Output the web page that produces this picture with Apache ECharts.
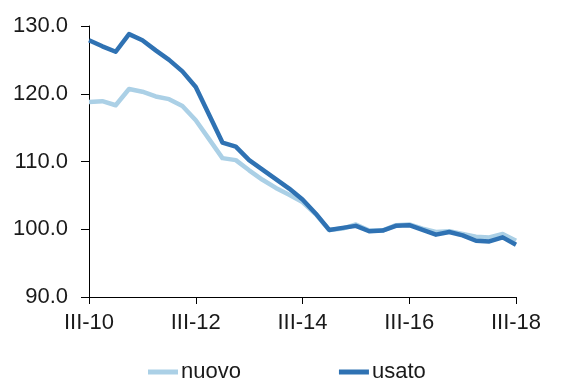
<!DOCTYPE html>
<html>
<head>
<meta charset="utf-8">
<script src="https://cdn.jsdelivr.net/npm/echarts@6/dist/echarts.min.js"></script>
<style>html,body{margin:0;padding:0;background:#fff}#c{width:561px;height:386px}</style>
</head>
<body>
<div id="c"></div>
<script>
const quarters = (function(){
  const q = ['I','II','III','IV'];
  const out = [];
  for (let y = 10; y <= 18; y++) for (let k = 0; k < 4; k++) {
    if ((y === 10 && k < 2) || (y === 18 && k > 2)) continue;
    out.push(q[k] + '-' + String(y).padStart(2,'0'));
  }
  return out;
})();
const nuovo = [118.8, 118.9, 118.3, 120.7, 120.3, 119.6, 119.2, 118.2, 116.1, 113.3, 110.5, 110.2, 108.7, 107.3, 106.1, 105.1,
  104.0, 102.2, 99.9, 100.1, 100.7, 99.8, 99.8, 100.6, 100.7, 100.1, 99.6, 99.7, 99.3, 98.9, 98.8, 99.3, 98.3];
const usato = [127.9, 127.0, 126.2, 128.8, 127.9, 126.4, 125.0, 123.3, 121.0, 116.9, 112.8, 112.2, 110.2, 108.8, 107.4, 106.0,
  104.4, 102.3, 99.9, 100.2, 100.5, 99.7, 99.8, 100.5, 100.6, 99.9, 99.2, 99.6, 99.1, 98.3, 98.2, 98.8, 97.7];
const yTicks = {min: 90, max: 130, step: 10};

const chart = echarts.init(document.getElementById('c'), null, {renderer: 'canvas'});
const font = 'Liberation Sans, Arial, sans-serif';
chart.setOption({
  animation: false,
  grid: {left: 89, right: 45, top: 26, bottom: 89, containLabel: false},
  legend: {
    left: 143, top: 356,
    itemWidth: 30, itemHeight: 5, itemGap: 98,
    icon: 'rect',
    textStyle: {fontFamily: font, fontSize: 22, color: '#1a1a1a', padding: [0,0,0,-2]},
    data: ['nuovo', 'usato']
  },
  xAxis: {
    type: 'category', data: quarters, boundaryGap: false,
    axisLine: {lineStyle: {color: '#000', width: 1}},
    axisTick: {interval: 7, length: 7, lineStyle: {color: '#000'}},
    axisLabel: {interval: 7, margin: 15, fontFamily: font, fontSize: 22, color: '#1a1a1a'},
    splitLine: {show: false}
  },
  yAxis: {
    type: 'value', min: yTicks.min, max: yTicks.max, interval: yTicks.step,
    axisLine: {show: true, lineStyle: {color: '#000', width: 1}},
    axisTick: {show: true, length: 8, lineStyle: {color: '#000'}},
    axisLabel: {margin: 21, fontFamily: font, fontSize: 22, color: '#1a1a1a', formatter: v => v.toFixed(1)},
    splitLine: {show: false}
  },
  series: [
    {name: 'nuovo', type: 'line', data: nuovo, symbol: 'none', color: '#abd0e6',
     lineStyle: {width: 4.5, color: '#abd0e6', join: 'round'}},
    {name: 'usato', type: 'line', data: usato, symbol: 'none', color: '#2f72b3',
     lineStyle: {width: 4.5, color: '#2f72b3', join: 'round'}}
  ]
});
</script>
</body>
</html>
